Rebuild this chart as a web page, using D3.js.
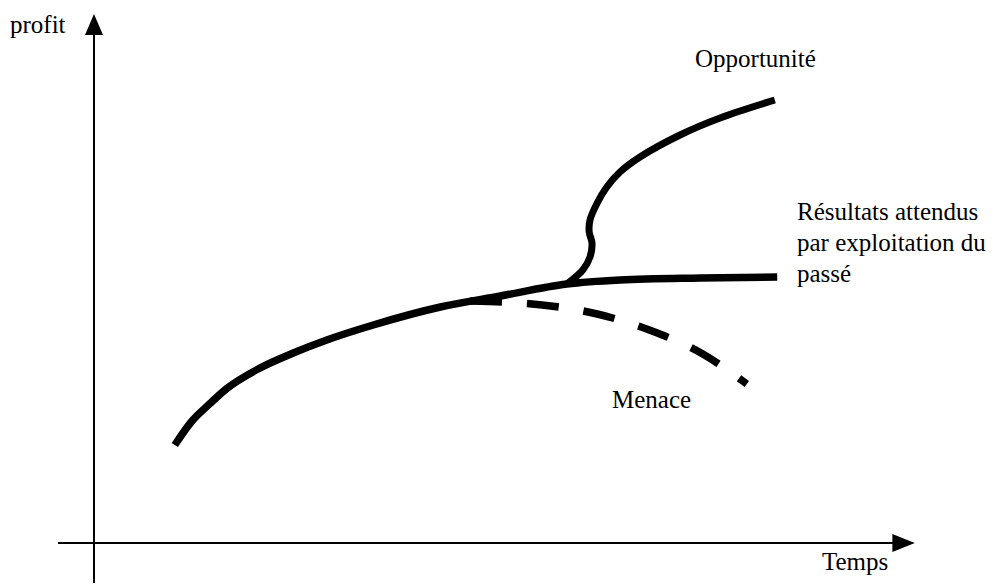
<!DOCTYPE html>
<html>
<head>
<meta charset="utf-8">
<script src="https://cdn.jsdelivr.net/npm/d3@7"></script>
<style>
  body { margin: 0; background: #fff; }
  text { font-family: "Liberation Serif", "Times New Roman", serif; fill: #000; }
</style>
</head>
<body>
<svg id="chart"></svg>
<script>
// values (time / profit, arbitrary units 0..100)
var baseTime   = [10.1, 12.25, 14.5, 16.6, 20.75, 24.9, 29.1, 34.9, 43.3, 50.8, 59.1, 65.75, 75.75, 85.4];
var baseProfit = [19.6, 24.4, 27.9, 30.9, 35, 38, 40.6, 43.6, 47.2, 49.4, 51.8, 52.6, 53, 53.2];

var oppTime   = [59.1, 61.1, 62, 62.25, 61.9, 62, 62.9, 64.1, 65.75, 68.25, 73.25, 78.25, 85.1];
var oppProfit = [51.8, 54.6, 57.2, 60, 62.2, 64.6, 68, 71.2, 74.2, 77.2, 81.6, 85, 88.6];

var menTime   = [47, 56, 62.9, 69.75, 76.1, 81.6];
var menProfit = [48.4, 47.6, 45.8, 42.4, 37.8, 31.8];

var axisLabels = {y: "profit", x: "Temps"};
var resultLines = ["Résultats attendus", "par exploitation du", "passé"];

var width = 1002, height = 585;

var svg = d3.select("#chart")
    .attr("width", width)
    .attr("height", height);

var x = d3.scaleLinear().domain([0, 100]).range([94, 894]);
var y = d3.scaleLinear().domain([0, 100]).range([543, 43]);

function zip(a, b) { return a.map(function(d, i) { return [d, b[i]]; }); }

// monotone in time for the base and threat curves, free form for the S-shaped branch
var smoothLine = d3.line()
    .x(function(d) { return x(d[0]); })
    .y(function(d) { return y(d[1]); })
    .curve(d3.curveMonotoneX);

var freeLine = d3.line()
    .x(function(d) { return x(d[0]); })
    .y(function(d) { return y(d[1]); })
    .curve(d3.curveCatmullRom.alpha(0.5));

// axes
var x0 = x(0), y0 = y(0);
svg.append("line")
    .attr("x1", x0).attr("x2", x0)
    .attr("y1", y(-8)).attr("y2", y(101.8))
    .attr("stroke", "#000").attr("stroke-width", 2);
svg.append("path")
    .attr("d", "M" + x0 + "," + y(105.8) + "L" + (x0 - 9) + "," + y(101.6) + "L" + (x0 + 9) + "," + y(101.6) + "Z")
    .attr("fill", "#000");

svg.append("line")
    .attr("x1", x(-4.5)).attr("x2", x(100))
    .attr("y1", y0).attr("y2", y0)
    .attr("stroke", "#000").attr("stroke-width", 2);
svg.append("path")
    .attr("d", "M" + x(102.6) + "," + y0 + "L" + x(99.8) + "," + (y0 - 9) + "L" + x(99.8) + "," + (y0 + 9) + "Z")
    .attr("fill", "#000");

// curves
svg.append("path")
    .datum(zip(menTime, menProfit))
    .attr("d", smoothLine)
    .attr("fill", "none")
    .attr("stroke", "#000")
    .attr("stroke-width", 7.5)
    .attr("stroke-dasharray", "32,25");

svg.append("path")
    .datum(zip(baseTime, baseProfit))
    .attr("d", smoothLine)
    .attr("fill", "none")
    .attr("stroke", "#000")
    .attr("stroke-width", 7.5);

svg.append("path")
    .datum(zip(oppTime, oppProfit))
    .attr("d", freeLine)
    .attr("fill", "none")
    .attr("stroke", "#000")
    .attr("stroke-width", 7);

// labels
var fs = "25px";
svg.append("text").attr("x", 10).attr("y", 33).style("font-size", fs).text(axisLabels.y);
svg.append("text").attr("x", 822).attr("y", 570).style("font-size", fs).text(axisLabels.x);
svg.append("text").attr("x", 695).attr("y", 67).style("font-size", fs).text("Opportunité");
svg.append("text").attr("x", 612).attr("y", 408).style("font-size", fs).text("Menace");

svg.append("g").selectAll("text")
    .data(resultLines)
    .enter().append("text")
    .attr("x", 797)
    .attr("y", function(d, i) { return 220 + i * 31; })
    .style("font-size", fs)
    .text(function(d) { return d; });
</script>
</body>
</html>
